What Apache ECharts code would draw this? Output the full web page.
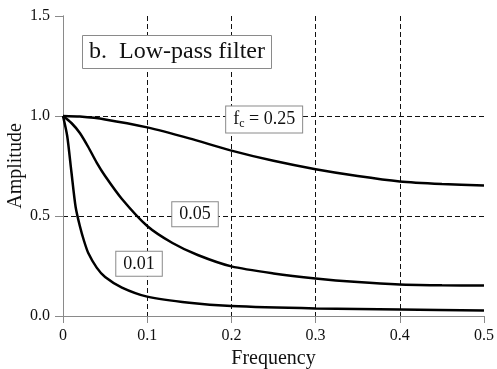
<!DOCTYPE html>
<html>
<head>
<meta charset="utf-8">
<script src="https://cdn.jsdelivr.net/npm/echarts@6/dist/echarts.min.js"></script>
<style>
  html, body { margin: 0; padding: 0; background: #fff; }
  #chart { width: 497px; height: 369px; }
</style>
</head>
<body>
<div id="chart"></div>
<script>
// Amplitude response of a single-pole low-pass filter for three cutoff frequencies
const freq025 = [0, 0.02, 0.05, 0.1, 0.15, 0.2, 0.25, 0.3, 0.35, 0.4, 0.45, 0.5];
const amp025  = [1.0, 0.997, 0.983, 0.943, 0.888, 0.827, 0.776, 0.734, 0.700, 0.673, 0.660, 0.652];

const freq005 = [0, 0.01, 0.02, 0.03, 0.04, 0.05, 0.07, 0.1, 0.13, 0.16, 0.2, 0.25, 0.3, 0.35, 0.4, 0.45, 0.5];
const amp005  = [1.0, 0.965, 0.915, 0.845, 0.767, 0.700, 0.585, 0.450, 0.365, 0.305, 0.248, 0.213, 0.188, 0.170, 0.158, 0.154, 0.152];

const freq001 = [0, 0.005, 0.01, 0.015, 0.02, 0.025, 0.03, 0.04, 0.05, 0.07, 0.1, 0.15, 0.2, 0.3, 0.4, 0.5];
const amp001  = [1.0, 0.90, 0.72, 0.545, 0.45, 0.375, 0.315, 0.242, 0.195, 0.142, 0.097, 0.066, 0.05, 0.038, 0.032, 0.028];

const xTickLabels = ['0', '0.1', '0.2', '0.3', '0.4', '0.5'];
const yTickLabels = ['0.0', '0.5', '1.0', '1.5'];

const seriesNames = ['0.25', '0.05', '0.01'];
const curveLabels = ['f{c|c} = 0.25', '0.05', '0.01'];
// where each curve's label box sits, in data units
const labelAnchors = [[0.2389, 0.9825], [0.1568, 0.5085], [0.0903, 0.261]];

const FONT = "'Liberation Serif', 'Times New Roman', serif";
const GRAY = '#8a8a8a';

function pairs(xs, ys) { return xs.map((x, i) => [x, ys[i]]); }

const curves = [pairs(freq025, amp025), pairs(freq005, amp005), pairs(freq001, amp001)];

const boxLabel = {
  show: true,
  position: 'inside',
  fontFamily: FONT,
  fontSize: 18,
  color: '#111',
  backgroundColor: '#fff',
  borderColor: GRAY,
  borderWidth: 1,
  padding: [3, 7, 3, 7],
  rich: {
    c: { fontFamily: FONT, fontSize: 12, color: '#111', padding: [8, 0, 0, 0] }
  }
};

const chart = echarts.init(document.getElementById('chart'), null, { renderer: 'canvas' });

chart.setOption({
  animation: false,
  backgroundColor: '#fff',
  title: {
    text: 'b.  Low-pass filter',
    left: 82, top: 35,
    padding: [5, 7, 5, 7],
    borderColor: GRAY, borderWidth: 1,
    backgroundColor: '#fff',
    textStyle: { fontFamily: FONT, fontSize: 24, fontWeight: 'normal', color: '#111' }
  },
  grid: { left: 63, right: 13, top: 16, bottom: 53, containLabel: false, outerBoundsMode: 'none' },
  xAxis: [{
    type: 'value', min: 0, max: 0.5, interval: 0.1, position: 'bottom',
    name: 'Frequency', nameLocation: 'middle', nameGap: 30,
    nameTextStyle: { fontFamily: FONT, fontSize: 20, color: '#111' },
    axisLine: { show: true, lineStyle: { color: GRAY, width: 1 } },
    axisTick: { show: true, inside: false, length: 7, lineStyle: { color: GRAY } },
    axisLabel: { margin: 12, fontFamily: FONT, fontSize: 16, color: '#111',
                 formatter: (v, i) => xTickLabels[i] },
    splitLine: { show: true, showMinLine: false, showMaxLine: false,
                 lineStyle: { color: '#111', type: [5, 3], width: 1 } }
  }, {
    type: 'value', min: 0, max: 0.5, interval: 0.1, position: 'top',
    axisLine: { show: true, lineStyle: { color: GRAY, width: 1 } },
    axisTick: { show: false }, axisLabel: { show: false }, splitLine: { show: false }
  }],
  yAxis: [{
    type: 'value', min: 0, max: 1.5, interval: 0.5, position: 'left',
    name: 'Amplitude', nameLocation: 'middle', nameGap: 37, nameRotate: 90,
    nameMoveOverlap: false,
    nameTextStyle: { fontFamily: FONT, fontSize: 20, color: '#111' },
    axisLine: { show: true, lineStyle: { color: GRAY, width: 1 } },
    axisTick: { show: true, inside: false, length: 8, lineStyle: { color: GRAY } },
    axisLabel: { margin: 13, fontFamily: FONT, fontSize: 16, color: '#111',
                 formatter: (v, i) => yTickLabels[i] },
    splitLine: { show: true, showMinLine: false, showMaxLine: false,
                 lineStyle: { color: '#111', type: [5, 3], width: 1 } }
  }, {
    type: 'value', min: 0, max: 1.5, interval: 0.5, position: 'right',
    axisLine: { show: true, lineStyle: { color: GRAY, width: 1 } },
    axisTick: { show: false }, axisLabel: { show: false }, splitLine: { show: false }
  }],
  series: curves.map((data, k) => ({
    name: seriesNames[k],
    type: 'line',
    data: data,
    smooth: 0.25,
    showSymbol: false,
    symbol: 'none',
    lineStyle: { color: '#000', width: 2.5 },
    z: 3,
    markPoint: {
      symbol: 'rect',
      symbolSize: 0,
      silent: true,
      label: boxLabel,
      data: [{ coord: labelAnchors[k], value: curveLabels[k],
               label: { formatter: curveLabels[k] } }]
    }
  }))
});
</script>
</body>
</html>
